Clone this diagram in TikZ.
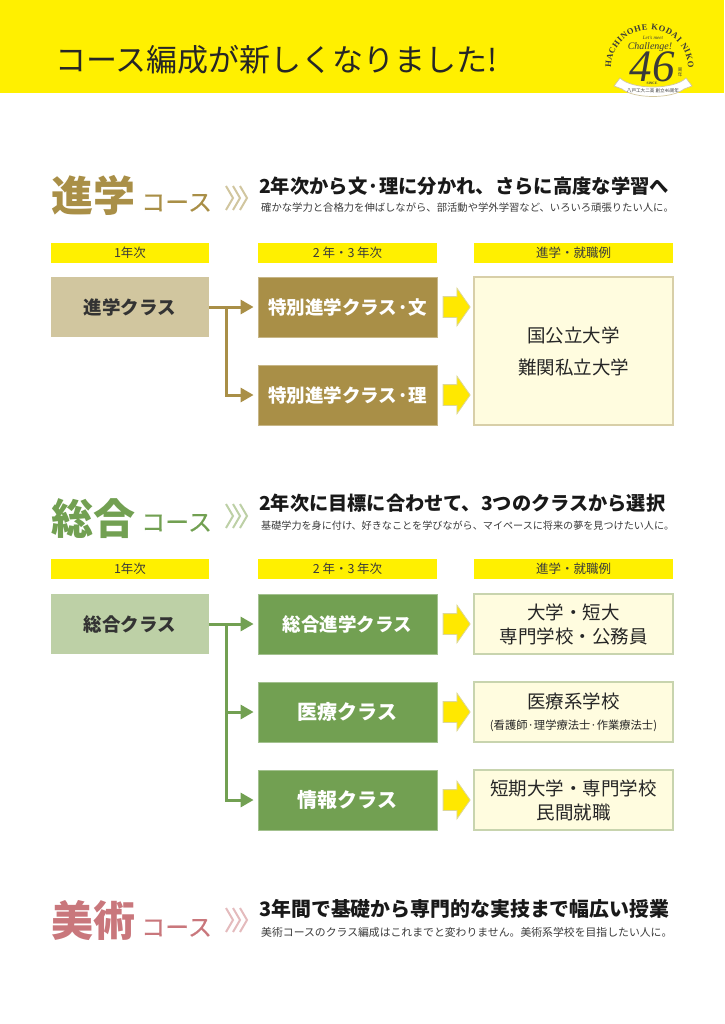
\documentclass[tikz,border=0pt]{standalone}
\usepackage{fontspec}
\setmainfont{Noto Sans CJK JP}
\newfontfamily\logofont{Liberation Serif}
\newfontfamily\tailfont[FakeBold=0.4]{Noto Sans CJK JP}
\usetikzlibrary{arrows.meta,shapes.arrows,decorations.text}
\definecolor{bandyellow}{HTML}{FFF000}
\definecolor{arrowyellow}{HTML}{FFE800}
\definecolor{arrowedge}{HTML}{DCD79A}
\definecolor{restfill}{HTML}{FFFCDF}
\definecolor{goldc}{HTML}{A98F47}
\definecolor{goldlight}{HTML}{D1C69F}
\definecolor{goldedge}{HTML}{D8CFA8}
\definecolor{greenc}{HTML}{72A052}
\definecolor{greenlight}{HTML}{BDD0A6}
\definecolor{greenedge}{HTML}{C8D4AE}
\definecolor{rosec}{HTML}{C9777C}
\definecolor{inkc}{HTML}{3A3A3A}
\tikzset{
  barbox/.style={fill=bandyellow,minimum width=#1,minimum height=20pt,inner sep=0pt,
    font=\fontsize{12.5}{14}\selectfont,text=inkc},
  startbox/.style={fill=#1,minimum width=158pt,minimum height=60pt,inner sep=0pt,
    font=\fontsize{18.5}{22}\selectfont\bfseries,text=black!80},
  classbox/.style={fill=#1,draw=#1!65!white,line width=0.8pt,minimum width=179pt,minimum height=60pt,
    inner sep=0pt,text=white,font=\fontsize{18.5}{22}\selectfont\bfseries},
  endbox/.style={fill=restfill,draw=#1,line width=1.2pt,minimum width=199pt,inner sep=0pt,
    align=center,text=black!85,font=\fontsize{18.5}{24}\selectfont},
  yarrow/.style={single arrow,fill=arrowyellow,draw=arrowedge,line width=0.8pt,minimum height=27pt,
    inner xsep=0pt,inner ysep=10pt,single arrow head extend=8.5pt,single arrow tip angle=110,
    single arrow head indent=0pt},
  link/.style={draw=#1,line width=3pt,-{Triangle[length=13pt,width=14pt]},shorten >=4pt},
  bigword/.style={anchor=base west,inner sep=0pt,text=#1,font=\fontsize{42}{44}\selectfont\bfseries},
  tailword/.style={anchor=base west,inner sep=0pt,text=#1,font=\tailfont\fontsize{24}{25}\selectfont},
  headline/.style={anchor=west,inner sep=0pt,text=black!90,font=\fontsize{#1}{22}\selectfont\bfseries},
  subline/.style={anchor=west,inner sep=0pt,text=inkc,font=\fontsize{#1}{12}\selectfont},
  chevron/.style={draw=#1,line width=2pt}
}
\begin{document}
\begin{tikzpicture}[x=1pt,y=-1pt]
  \useasboundingbox (0,0) rectangle (724,1024);
  \fill[bandyellow] (0,0) rectangle (724,93);
  \node[anchor=west,inner sep=0pt,text=black!85,font=\fontsize{31}{33}\selectfont] (title) at (55,60)
    {コース編成が新しくなりました!};

  \path[decorate,decoration={text along path,text align={fit to path},
    text={|\logofont\bfseries\fontsize{8.5}{9}\selectfont\color{inkc}|HACHINOHE KODAI NIKO}}]
    (611pt,-68pt) arc[start angle=180,end angle=0,radius=38.5pt];
  \node[inner sep=0pt,text=inkc,font=\logofont\itshape\fontsize{5}{5}\selectfont] (logotop) at (653,38) {Let's meet};
  \node[inner sep=0pt,text=inkc,font=\logofont\itshape\fontsize{10}{10}\selectfont] (logochal) at (650,47) {Challenge!};
  \node[inner sep=0pt,text=inkc,font=\logofont\itshape\fontsize{45}{45}\selectfont] (logonum) at (652,67) {46};
  \node[inner sep=0pt,text=inkc,align=center,font=\fontsize{4.5}{5}\selectfont] (logounit) at (680,72) {周\\年};
  \node[inner sep=0pt,text=inkc,font=\logofont\bfseries\fontsize{3.5}{4}\selectfont] (logosince) at (652,83) {SINCE};
  \fill[white,draw=goldlight,line width=0.7pt] (620,78) .. controls (632,90) and (674,90) .. (686,78)
    -- (692,86) -- (684,89) .. controls (672,99) and (634,99) .. (622,89) -- (614,86) -- cycle;
  \node[inner sep=0pt,text=inkc,font=\fontsize{4.6}{5}\selectfont] (logoband) at (653,91) {八戸工大二高 創立46周年};

  % 進学
  \node[bigword=goldc] (shead) at (51,212) {進学};
  \node[tailword=goldc] (stail) at (141,211) {コース};
  \foreach \dx in {0,7,14}
    \draw[chevron=goldlight] (226+\dx,186) -- (233+\dx,198) -- (226+\dx,210);
  \node[headline=19.3] (stitle) at (259,186) {2年次から文·理に分かれ、さらに高度な学習へ};
  \node[subline=10.33] (ssub) at (261,208) {確かな学力と合格力を伸ばしながら、部活動や学外学習など、いろいろ頑張りたい人に。};
  \node[barbox=158pt] (sbara) at (130,253) {1年次};
  \node[barbox=179pt] (sbarb) at (347.5,253) {2 年・3 年次};
  \node[barbox=199pt] (sbarc) at (573.5,253) {進学・就職例};
  \node[startbox=goldlight] (sstart) at (130,307) {進学クラス};
  \node[classbox=goldc] (sbun) at (347.5,307) {特別進学クラス·文};
  \node[classbox=goldc] (sri) at (347.5,395) {特別進学クラス·理};
  \node[endbox=goldedge,minimum height=148pt,font=\fontsize{18.5}{32}\selectfont] (send) at (573.5,351)
    {国公立大学\\難関私立大学};
  \node[yarrow] (sarrowa) at (453,307) {};
  \node[yarrow] (sarrowb) at (453,395) {};
  \coordinate (sfork) at (226,307);
  \draw[link=goldc] (sstart) -- (sbun);
  \draw[link=goldc] (sfork) |- (sri);

  % 総合
  \node[bigword=greenc] (ghead) at (51,534) {総合};
  \node[tailword=greenc] (gtail) at (141,531) {コース};
  \foreach \dx in {0,7,14}
    \draw[chevron=greenlight] (226+\dx,504) -- (233+\dx,516) -- (226+\dx,528);
  \node[headline=19.2] (gtitle) at (259,503) {2年次に目標に合わせて、3つのクラスから選択};
  \node[subline=10.1] (gsub) at (261,526) {基礎学力を身に付け、好きなことを学びながら、マイペースに将来の夢を見つけたい人に。};
  \node[barbox=158pt] (gbara) at (130,569) {1年次};
  \node[barbox=179pt] (gbarb) at (347.5,569) {2 年・3 年次};
  \node[barbox=199pt] (gbarc) at (573.5,569) {進学・就職例};
  \node[startbox=greenlight] (gstart) at (130,624) {総合クラス};
  \node[classbox=greenc] (gshin) at (347.5,624) {総合進学クラス};
  \node[classbox=greenc,font=\fontsize{20}{22}\selectfont\bfseries] (giryo) at (347.5,712) {医療クラス};
  \node[classbox=greenc,font=\fontsize{20}{22}\selectfont\bfseries] (gjoho) at (347.5,800) {情報クラス};
  \node[endbox=greenedge,minimum height=60pt] (gendshin) at (573.5,624) {大学・短大\\専門学校・公務員};
  \node[endbox=greenedge,minimum height=60pt] (gendiryo) at (573.5,712)
    {医療系学校\\[-3pt]{\fontsize{11.3}{12}\selectfont (看護師·理学療法士·作業療法士)}};
  \node[endbox=greenedge,minimum height=60pt] (gendjoho) at (573.5,800) {短期大学・専門学校\\民間就職};
  \node[yarrow] (garrowa) at (453,624) {};
  \node[yarrow] (garrowb) at (453,712) {};
  \node[yarrow] (garrowc) at (453,800) {};
  \coordinate (gfork) at (226,624);
  \draw[link=greenc] (gstart) -- (gshin);
  \draw[link=greenc] (gfork) |- (giryo);
  \draw[link=greenc] (gfork) |- (gjoho);

  % 美術
  \node[bigword=rosec] (bhead) at (51,936) {美術};
  \node[tailword=rosec] (btail) at (141,936) {コース};
  \foreach \dx in {0,7,14}
    \draw[chevron=rosec!50!white] (226+\dx,908) -- (233+\dx,920) -- (226+\dx,932);
  \node[headline=19.9] (btitle) at (259,909) {3年間で基礎から専門的な実技まで幅広い授業};
  \node[subline=10.85] (bsub) at (261,932) {美術コースのクラス編成はこれまでと変わりません。美術系学校を目指したい人に。};
\end{tikzpicture}
\end{document}
